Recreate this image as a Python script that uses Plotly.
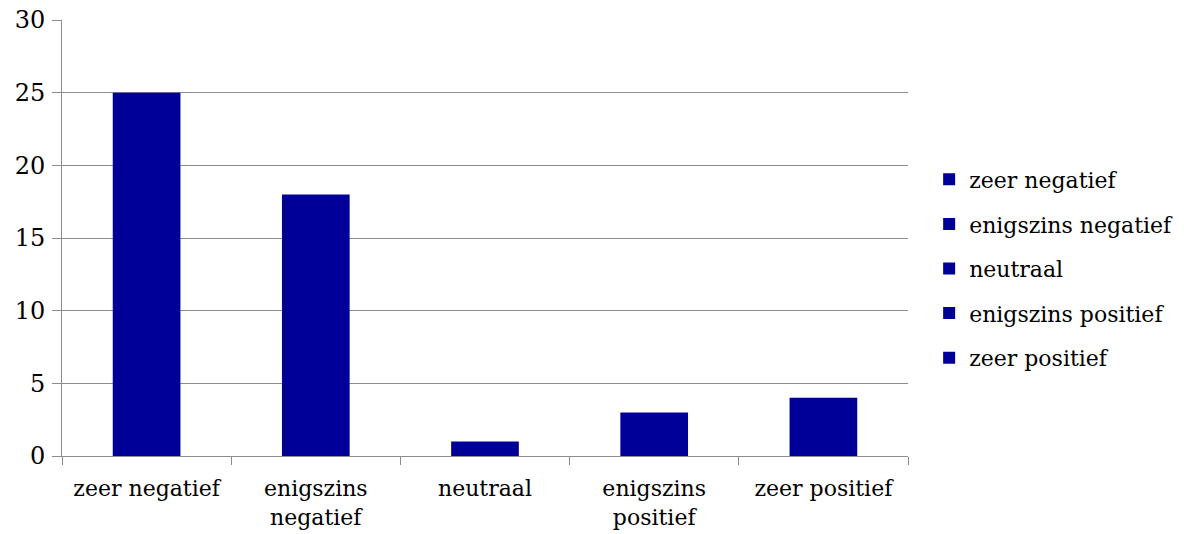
import plotly.graph_objects as go

categories = ["zeer negatief", "enigszins negatief", "neutraal", "enigszins positief", "zeer positief"]
tick_labels = ["zeer negatief", "enigszins<br>negatief", "neutraal", "enigszins<br>positief", "zeer positief"]
values = [25, 18, 1, 3, 4]
y_ticks = [0, 5, 10, 15, 20, 25, 30]

BAR_COLOR = "#000099"
GRID = "#8c8c8c"
FONT = "DejaVu Serif"

fig = go.Figure()
for i, (cat, val) in enumerate(zip(categories, values)):
    fig.add_trace(go.Bar(
        x=[cat], y=[val], name=cat, width=0.4,
        marker=dict(color=BAR_COLOR, line=dict(width=0)),
        legendgroup=f"g{i}",
    ))

fig.update_layout(
    width=1184, height=534,
    margin=dict(l=62, r=276, t=20, b=78, autoexpand=False),
    paper_bgcolor="white", plot_bgcolor="white",
    barmode="overlay",
    font=dict(family=FONT, size=21, color="black"),
    showlegend=True,
    legend=dict(
        x=1.025, y=0.43, xanchor="left", yanchor="middle",
        font=dict(family=FONT, size=22),
        tracegroupgap=13, itemwidth=30,
    ),
    xaxis=dict(
        type="category", categoryorder="array", categoryarray=categories,
        tickmode="array", tickvals=categories, ticktext=tick_labels,
        tickson="boundaries", ticks="outside", ticklen=8, tickcolor=GRID,
        showline=True, linecolor=GRID, linewidth=1,
        showgrid=False, zeroline=False, automargin=False,
        ticklabelstandoff=13, tickfont=dict(size=22),
    ),
    yaxis=dict(
        range=[0, 30], tickvals=y_ticks,
        ticks="outside", ticklen=9, tickcolor=GRID,
        showline=True, linecolor=GRID, linewidth=1,
        showgrid=True, gridcolor=GRID, gridwidth=1, zeroline=False,
        automargin=False, tickfont=dict(size=24), ticklabelstandoff=2,
    ),
)

fig.write_html("out.html")
